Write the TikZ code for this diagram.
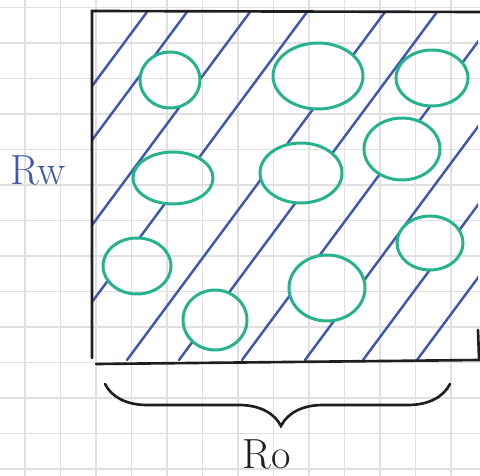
\documentclass[tikz,border=0pt]{standalone}
\usepackage{tikz}
\usetikzlibrary{decorations.pathreplacing}
\definecolor{penblue}{RGB}{62,88,170}
\definecolor{pengreen}{RGB}{38,178,140}
\definecolor{gridgrey}{RGB}{224,224,224}
\definecolor{inkblack}{RGB}{30,30,30}
\newcommand{\bloblist}{170/80/30/28, 173/178/40/26, 318/76/45/33, 432/78/36/28, 402/149/38/31,
  301/173/41/30, 137/266/34/28, 215/320/32/30, 327/288/38/33, 430/243/33/27}
\tikzset{
  hatch/.style={penblue,line width=1.4pt,line cap=round},
  blob/.style={pengreen,line width=1.7pt},
  edge/.style={inkblack,line width=1.5pt,line cap=round},
  paper/.style={gridgrey,line width=0.8pt},
  lab/.style={font=\fontsize{24}{26}\selectfont,inner sep=0pt}
}
\begin{document}
\begin{tikzpicture}[x=0.02cm,y=-0.02cm]
  \useasboundingbox (0,0) rectangle (480,476);
  % squared paper
  \foreach \gx in {25,60.5,...,480} \draw[paper] (\gx,0) -- (\gx,476);
  \foreach \gy in {7.5,43,...,476} \draw[paper] (0,\gy) -- (480,\gy);
  % hatching, kept out of the pores
  \begin{scope}[even odd rule]
    \clip (92,12) rectangle (478,361)
      \foreach \cx/\cy/\rx/\ry in \bloblist { (\cx,\cy) ellipse (\rx*0.02cm and \ry*0.02cm) };
    \foreach \xt in {147,187,250,307,385,437,500,563,621,675}
      \draw[hatch] (\xt,12) -- ++(-258,348);
  \end{scope}
  \foreach \cx/\cy/\rx/\ry in \bloblist
    \draw[blob] (\cx,\cy) ellipse (\rx*0.02cm and \ry*0.02cm);
  % box
  \draw[edge] (480,12) -- (92,11) -- (92,358);
  \draw[edge] (96,364) -- (480,360);
  \draw[edge] (478,330) -- (479,358);
  \draw[edge,decorate,decoration={brace,mirror,amplitude=0.84cm,aspect=0.51}] (105,384) -- (450,384);
  \node[lab,text=penblue] (rw) at (38,170) {Rw};
  \node[lab,text=inkblack] (ro) at (267,454) {Ro};
\end{tikzpicture}
\end{document}
